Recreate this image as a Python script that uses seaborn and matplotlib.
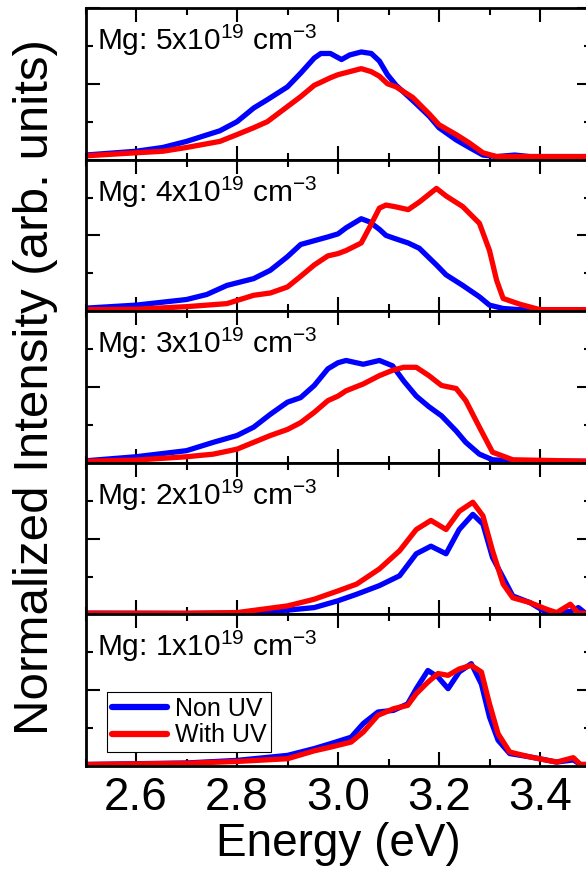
import numpy as np
import pandas as pd
import matplotlib
matplotlib.use("Agg")
import matplotlib.pyplot as plt
from matplotlib.lines import Line2D
from matplotlib.ticker import FixedLocator, FormatStrFormatter
import seaborn as sns

# ---- PL spectra (normalized intensity vs photon energy) ----
labels = ["5", "4", "3", "2", "1"]          # Mg concentration, x10^19 cm^-3
series_names = ["Non UV", "With UV"]
colors = {"Non UV": "#0000ff", "With UV": "#ff0000"}

e_5_non = [2.50, 2.60, 2.653, 2.70, 2.766, 2.80, 2.833, 2.86, 2.90, 2.926, 2.953, 2.966, 2.985, 3.007,
           3.023, 3.046, 3.066, 3.082, 3.098, 3.115, 3.148, 3.181, 3.20, 3.234, 3.26, 3.287, 3.314, 3.35,
           3.38, 3.50]
i_5_non = [0.03, 0.055, 0.08, 0.12, 0.19, 0.25, 0.34, 0.395, 0.48, 0.57, 0.67, 0.70, 0.70, 0.66,
           0.69, 0.71, 0.70, 0.65, 0.56, 0.49, 0.39, 0.285, 0.21, 0.13, 0.08, 0.03, 0.02, 0.03,
           0.02, 0.02]
e_5_uv = [2.50, 2.60, 2.653, 2.70, 2.766, 2.80, 2.833, 2.86, 2.90, 2.926, 2.953, 2.966, 2.985, 3.00,
          3.023, 3.046, 3.066, 3.082, 3.098, 3.115, 3.148, 3.181, 3.20, 3.234, 3.26, 3.287, 3.314, 3.50]
i_5_uv = [0.025, 0.045, 0.055, 0.08, 0.12, 0.165, 0.21, 0.25, 0.35, 0.415, 0.49, 0.51, 0.54, 0.56,
          0.58, 0.60, 0.58, 0.55, 0.50, 0.48, 0.41, 0.30, 0.23, 0.165, 0.11, 0.045, 0.02, 0.02]

e_4_non = [2.50, 2.60, 2.70, 2.74, 2.78, 2.833, 2.866, 2.90, 2.926, 2.953, 2.98, 3.00, 3.016, 3.046,
           3.062, 3.082, 3.095, 3.112, 3.139, 3.161, 3.195, 3.214, 3.247, 3.28, 3.30, 3.327, 3.36, 3.50]
i_4_non = [0.02, 0.04, 0.077, 0.11, 0.17, 0.215, 0.27, 0.36, 0.44, 0.465, 0.49, 0.51, 0.55, 0.61,
           0.59, 0.54, 0.50, 0.48, 0.45, 0.415, 0.305, 0.24, 0.17, 0.095, 0.04, 0.018, 0.01, 0.01]
e_4_uv = [2.50, 2.60, 2.70, 2.74, 2.78, 2.833, 2.866, 2.90, 2.926, 2.953, 2.98, 3.00, 3.016, 3.046,
          3.062, 3.082, 3.095, 3.112, 3.139, 3.161, 3.195, 3.214, 3.247, 3.28, 3.30, 3.314, 3.327,
          3.36, 3.40, 3.50]
i_4_uv = [0.01, 0.013, 0.03, 0.04, 0.05, 0.105, 0.12, 0.16, 0.23, 0.305, 0.365, 0.38, 0.40, 0.45,
          0.55, 0.68, 0.70, 0.69, 0.67, 0.72, 0.81, 0.76, 0.69, 0.58, 0.40, 0.205, 0.084,
          0.046, 0.01, 0.01]

e_3 = [2.50, 2.60, 2.70, 2.753, 2.80, 2.833, 2.866, 2.90, 2.926, 2.953, 2.98, 3.00, 3.016, 3.05,
       3.082, 3.108, 3.13, 3.155, 3.18, 3.205, 3.234, 3.253, 3.28, 3.306, 3.346, 3.50]
i_3_non = [0.013, 0.04, 0.08, 0.135, 0.18, 0.235, 0.32, 0.40, 0.43, 0.51, 0.62, 0.66, 0.675, 0.65,
           0.675, 0.64, 0.54, 0.44, 0.37, 0.31, 0.21, 0.135, 0.057, 0.02, 0.012, 0.01]
i_3_uv = [0.01, 0.018, 0.04, 0.057, 0.09, 0.135, 0.18, 0.22, 0.265, 0.333, 0.41, 0.44, 0.475, 0.52,
          0.575, 0.61, 0.63, 0.63, 0.575, 0.51, 0.49, 0.41, 0.235, 0.07, 0.02, 0.01]

e_2 = [2.50, 2.70, 2.80, 2.90, 2.953, 3.00, 3.037, 3.082, 3.122, 3.155, 3.184, 3.214, 3.24, 3.267,
       3.287, 3.306, 3.327, 3.346, 3.38, 3.413, 3.433, 3.46, 3.476, 3.49, 3.50]
i_2_non = [0.008, 0.006, 0.008, 0.028, 0.045, 0.09, 0.133, 0.19, 0.255, 0.40, 0.45, 0.40, 0.56, 0.66,
           0.595, 0.375, 0.243, 0.122, 0.078, 0.012, 0.008, 0.02, 0.045, 0.008, 0.008]
i_2_uv = [0.008, 0.008, 0.012, 0.056, 0.10, 0.155, 0.20, 0.30, 0.42, 0.56, 0.62, 0.56, 0.68, 0.74,
          0.65, 0.42, 0.20, 0.11, 0.078, 0.034, 0.012, 0.067, 0.008, 0.008, 0.008]

e_1 = [2.50, 2.70, 2.80, 2.90, 2.953, 2.986, 3.026, 3.05, 3.079, 3.11, 3.138, 3.155, 3.178, 3.198,
       3.218, 3.24, 3.264, 3.284, 3.30, 3.317, 3.34, 3.38, 3.433, 3.466, 3.48, 3.50]
i_1_non = [0.01, 0.02, 0.037, 0.07, 0.115, 0.148, 0.19, 0.28, 0.356, 0.367, 0.41, 0.51, 0.63, 0.587,
           0.51, 0.62, 0.675, 0.54, 0.323, 0.17, 0.082, 0.06, 0.026, 0.04, 0.01, 0.01]
i_1_uv = [0.01, 0.018, 0.03, 0.048, 0.10, 0.125, 0.158, 0.224, 0.334, 0.378, 0.40, 0.477, 0.553, 0.61,
          0.598, 0.64, 0.664, 0.62, 0.41, 0.213, 0.092, 0.06, 0.026, 0.055, 0.01, 0.01]

spectra = {
    "5": ((e_5_non, i_5_non), (e_5_uv, i_5_uv)),
    "4": ((e_4_non, i_4_non), (e_4_uv, i_4_uv)),
    "3": ((e_3, i_3_non), (e_3, i_3_uv)),
    "2": ((e_2, i_2_non), (e_2, i_2_uv)),
    "1": ((e_1, i_1_non), (e_1, i_1_uv)),
}

x_major = [2.6, 2.8, 3.0, 3.2, 3.4]
x_minor = [2.5, 2.7, 2.9, 3.1, 3.3, 3.5]

# ---- style ----
sns.set_style("ticks")
plt.rcParams["font.family"] = ["Liberation Sans", "DejaVu Sans"]
plt.rcParams["mathtext.default"] = "regular"
plt.rcParams["axes.linewidth"] = 2.0
for key in ("text.color", "axes.labelcolor", "xtick.color", "ytick.color", "axes.edgecolor"):
    plt.rcParams[key] = "black"

W, H = 586, 882
fig = plt.figure(figsize=(W / 100, H / 100), dpi=100)

left_px, width_px = 85.5, 505.0
top_px, bottom_px = 8.0, 766.0
panel_h = (bottom_px - top_px) / len(labels)

axes = []
for k, conc in enumerate(labels):
    y_bot = top_px + (k + 1) * panel_h
    ax = fig.add_axes([left_px / W, 1 - y_bot / H, width_px / W, panel_h / H])
    axes.append(ax)

    (e_a, v_a), (e_b, v_b) = spectra[conc]
    df = pd.concat([
        pd.DataFrame({"energy": e_a, "intensity": v_a, "sample": series_names[0]}),
        pd.DataFrame({"energy": e_b, "intensity": v_b, "sample": series_names[1]}),
    ], ignore_index=True)
    sns.lineplot(data=df, x="energy", y="intensity", hue="sample",
                 hue_order=series_names, palette=colors, estimator=None,
                 linewidth=3.8, legend=False, ax=ax,
                 solid_joinstyle="round", solid_capstyle="round")

    ax.set_xlim(2.5, 3.5)
    ax.set_ylim(0, 1)
    ax.xaxis.set_major_locator(FixedLocator(x_major))
    ax.xaxis.set_minor_locator(FixedLocator(x_minor))
    ax.yaxis.set_major_locator(FixedLocator([0, 0.5, 1.0]))
    ax.yaxis.set_minor_locator(FixedLocator([0.25, 0.75]))
    ax.tick_params(which="both", direction="in", top=True, right=True,
                   left=True, bottom=True, labelleft=False, width=1.5, color="black")
    ax.tick_params(which="major", length=10)
    ax.tick_params(which="minor", length=5)
    ax.set_xlabel("")
    ax.set_ylabel("")
    for s in ax.spines.values():
        s.set_color("black")
        s.set_linewidth(2.0)

    ax.text(0.023, 0.723, "Mg: %sx10$^{19}$ cm$^{-3}$" % conc, transform=ax.transAxes,
            fontsize=21.5, ha="left", va="baseline", color="black")

    if k < len(labels) - 1:
        ax.tick_params(labelbottom=False)
    else:
        ax.xaxis.set_major_formatter(FormatStrFormatter("%.1f"))
        ax.tick_params(axis="x", labelsize=33, pad=7, labelcolor="black")
        ax.set_xlabel("Energy (eV)", fontsize=33, labelpad=2, color="black")

# legend in the lowest panel
handles = [Line2D([0], [0], color=colors[n], lw=4.5) for n in series_names]
leg = axes[-1].legend(handles, series_names, loc="lower left",
                      bbox_to_anchor=(0.0426, 0.09), borderaxespad=0,
                      fontsize=18, handlelength=2.2, handletextpad=0.3,
                      borderpad=0.2, labelspacing=0.1, fancybox=False,
                      framealpha=1, edgecolor="black")
leg.get_frame().set_linewidth(0.8)
for t in leg.get_texts():
    t.set_color("black")

fig.text(36 / W, 1 - 387 / H, "Normalized Intensity (arb. units)", rotation=90,
         fontsize=35.5, ha="center", va="center", color="black")

fig.savefig("out.png", dpi=100)
